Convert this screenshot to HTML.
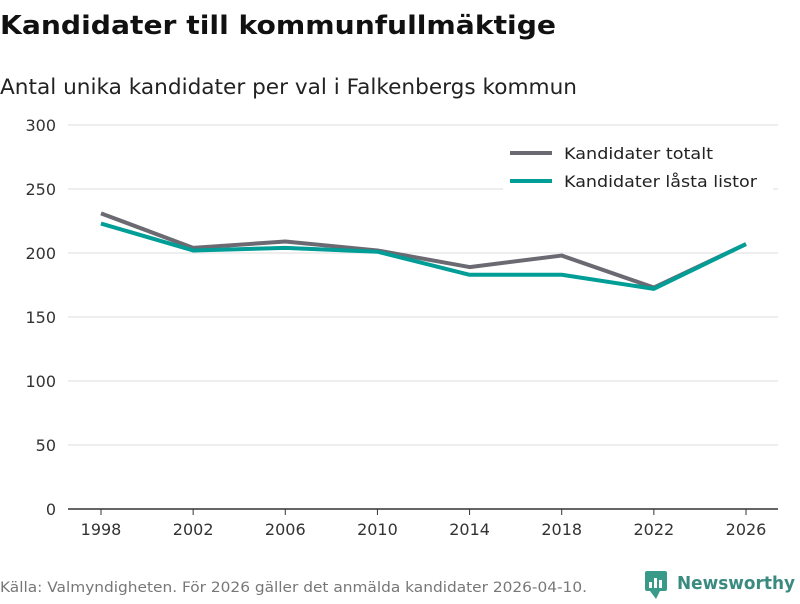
<!DOCTYPE html>
<html><head><meta charset="utf-8"><style>
body{margin:0;background:#fff;width:800px;height:600px;overflow:hidden;font-family:"DejaVu Sans",sans-serif}
</style></head><body>
<svg width="800" height="600" xmlns="http://www.w3.org/2000/svg" font-family="DejaVu Sans, sans-serif">
<text x="0" y="34" font-size="26" font-weight="bold" fill="#111" textLength="556" lengthAdjust="spacingAndGlyphs">Kandidater till kommunfullmäktige</text>
<text x="0" y="94" font-size="21" fill="#222" textLength="577" lengthAdjust="spacingAndGlyphs">Antal unika kandidater per val i Falkenbergs kommun</text>
<g id="grid"></g><g id="xaxis"></g><g id="lines"></g>
<g>
<rect x="503" y="138" width="270" height="60" fill="#fff"/>
<line x1="510" y1="153" x2="552" y2="153" stroke="#6b6a72" stroke-width="4"/>
<text x="564" y="159" font-size="16" fill="#222" textLength="149" lengthAdjust="spacingAndGlyphs">Kandidater totalt</text>
<line x1="510" y1="181" x2="552" y2="181" stroke="#009e96" stroke-width="4"/>
<text x="564" y="187" font-size="16" fill="#222" textLength="193" lengthAdjust="spacingAndGlyphs">Kandidater låsta listor</text>
</g>
<text x="0" y="592" font-size="14" fill="#777" textLength="587" lengthAdjust="spacingAndGlyphs">Källa: Valmyndigheten. För 2026 gäller det anmälda kandidater 2026-04-10.</text>
<g>
<rect x="645" y="571" width="22" height="20" rx="2" fill="#3a9a8a"/>
<path d="M650 591 L656 599 L660 591 Z" fill="#3a9a8a"/>
<rect x="649" y="582" width="3" height="6" fill="#fff"/><rect x="654" y="578" width="3" height="10" fill="#fff"/><rect x="659" y="580" width="3" height="8" fill="#fff"/>
<text x="677" y="589" font-size="18" font-weight="bold" fill="#3a8a80" textLength="118" lengthAdjust="spacingAndGlyphs">Newsworthy</text>
</g>
</svg>
<script>
const years=[1998,2002,2006,2010,2014,2018,2022,2026];
const totalt=[231,204,209,202,189,198,173,207];
const lasta=[223,202,204,201,183,183,172,207];
const yTicks=[0,50,100,150,200,250,300];
const NS="http://www.w3.org/2000/svg";
const x=i=>101+i*(746-101)/(years.length-1);
const y=v=>509-v*(384/300);
function mk(t,a,p){const e=document.createElementNS(NS,t);for(const k in a)e.setAttribute(k,a[k]);p.appendChild(e);return e;}
const g=document.getElementById('grid');
yTicks.forEach(v=>{
 const l=mk('line',{x1:68,x2:778,y1:y(v),y2:y(v),stroke:v===0?'#333':'#ddd','stroke-width':v===0?1.5:1},g);
 
 
 const t=mk('text',{x:56,y:y(v)+6,'font-size':16,fill:'#333','text-anchor':'end'},g);t.textContent=v;
 
 
});
const xa=document.getElementById('xaxis');
years.forEach((yr,i)=>{
 const tk=mk('line',{x1:x(i),x2:x(i),y1:509,y2:515,stroke:'#333'},xa);
 
 
 const t=mk('text',{x:x(i),y:535,'font-size':16,fill:'#333','text-anchor':'middle'},xa);t.textContent=yr;
 
 
});
const lg=document.getElementById('lines');
[[totalt,'#6b6a72','line-totalt'],[lasta,'#009e96','line-lasta']].forEach(([d,c,n])=>{
 const p=mk('polyline',{points:d.map((v,i)=>x(i)+','+y(v)).join(' '),fill:'none',stroke:c,'stroke-width':4,'stroke-linejoin':'round'},lg);
 
 
});
</script>
</body></html>
